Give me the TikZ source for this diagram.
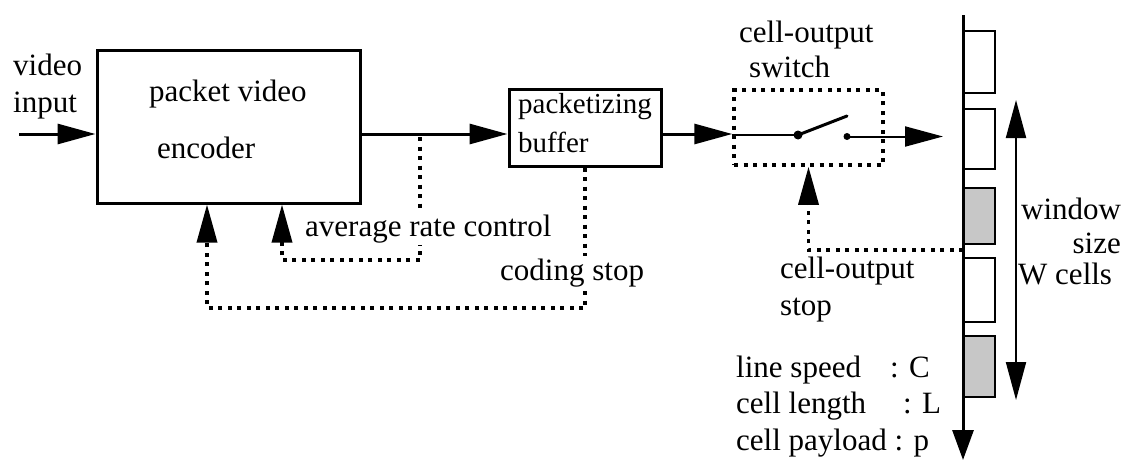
\documentclass[tikz,border=0pt]{standalone}
\usepackage{fontspec}
\setmainfont{Liberation Serif}
\usetikzlibrary{arrows.meta}
\tikzset{
  bigtip/.tip={Triangle[length=38pt,width=20pt]},
  endtip/.tip={Triangle[length=30pt,width=21pt]},
  heavy/.style={line width=3pt},
  dotline/.style={line width=3.5pt, dash pattern=on 4pt off 5.5pt},
  txt/.style={anchor=base west, inner sep=0pt, font=\fontsize{31}{37}\selectfont},
  btxt/.style={anchor=base west, inner sep=0pt, font=\fontsize{29}{35}\selectfont},
  wtxt/.style={txt, fill=white, inner ysep=2pt},
  cellbox/.style={draw, line width=1.5pt, anchor=north west, minimum width=31pt, inner sep=0pt},
  shaded/.style={cellbox, fill=black!22}
}
\begin{document}
\begin{tikzpicture}[x=1pt,y=-1pt]
\useasboundingbox (0,0) rectangle (1134,461);

% blocks
\node[draw, heavy, minimum width=263pt, minimum height=153pt, inner sep=0pt] (enc) at (228.5,126.5) {};
\node[draw, heavy, minimum width=152pt, minimum height=77pt, inner sep=0pt] (buf) at (585,127.5) {};
\node[draw, dotline, minimum width=149pt, minimum height=75pt, inner sep=0pt] (sw) at (808.5,127.5) {};

% texts
\node[txt] (tvid) at (13,75) {video};
\node[txt] (tinp) at (13,112) {input};
\node[txt] (tpv) at (149,101) {packet video};
\node[txt] (tenc) at (157,158) {encoder};
\node[btxt] (tpk) at (518,113) {packetizing};
\node[btxt] (tbf) at (518,152) {buffer};
\node[txt] (tco) at (739,42) {cell-output};
\node[txt] (tsw) at (749,77) {switch};

% cells
\node[cellbox, minimum height=62pt] (c1) at (963,30) {};
\node[cellbox, minimum height=60pt] (c2) at (963,108) {};
\node[shaded, minimum height=56pt] (c3) at (963,187) {};
\node[cellbox, minimum height=64pt] (c4) at (963,257) {};
\node[shaded, minimum height=61pt] (c5) at (963,335) {};
\coordinate (lineTop) at (963,15);
\coordinate (lineEnd) at (963,460);
\draw[heavy,-endtip] (lineTop) -- (lineEnd);

% main signal path
\coordinate (vin) at (19,134);
\draw[heavy,-bigtip] (vin) -- (vin -| enc.west);
\draw[heavy,-bigtip] (enc.east |- vin) -- (buf.west |- vin);
\draw[heavy,-bigtip] (buf.east |- vin) -- (sw.west |- vin);

% switch
\coordinate (piv) at (798,135);
\coordinate (lev) at (847,116);
\coordinate (cont) at (847,136.5);
\coordinate (arrEnd) at (943,136.5);
\draw[line width=2pt] (sw.west |- piv) -- (piv);
\draw[line width=3pt, line cap=round] (piv) -- (lev);
\fill (piv) circle (4.5pt);
\fill (cont) circle (3.5pt);
\draw[line width=2pt,-bigtip] (cont) -- (arrEnd);

% average rate control feedback
\coordinate (tapA) at (420,137);
\coordinate (cA) at (420,260);
\coordinate (cB) at (282,260);
\draw[dotline,-bigtip] (tapA) -- (cA) -- (cB) -- (cB |- enc.south);

% coding stop feedback
\coordinate (cC) at (207,308);
\draw[dotline,-bigtip] (buf.south) -- (buf.south |- cC) -- (cC) -- (cC |- enc.south);

% cell-output stop feedback
\coordinate (cD) at (810,250);
\draw[dotline,-bigtip] (lineTop |- cD) -- (sw.south |- cD) -- (sw.south);

% window arrow
\coordinate (wTop) at (1016,100);
\coordinate (wBot) at (1016,400);
\draw[line width=2pt,bigtip-bigtip] (wTop) -- (wBot);

% labels
\node[wtxt] (tarc) at (305,236) {average rate control};
\node[wtxt] (tcs) at (500,280) {coding stop};
\node[txt] (tcos) at (780,278) {cell-output};
\node[txt] (tst) at (780,315) {stop};
\node[txt] (twin) at (1021,219) {window};
\node[txt, anchor=base east] (tsz) at (1121,253) {size};
\node[txt] (twc) at (1018,284) {W cells};
\node[txt] (tls) at (736,377) {line speed};
\node[txt] (tlsv) at (890,377) {: C};
\node[txt] (tcl) at (736,413) {cell length};
\node[txt] (tclv) at (903,413) {: L};
\node[txt] (tcp) at (736,450) {cell payload : p};
\end{tikzpicture}
\end{document}
